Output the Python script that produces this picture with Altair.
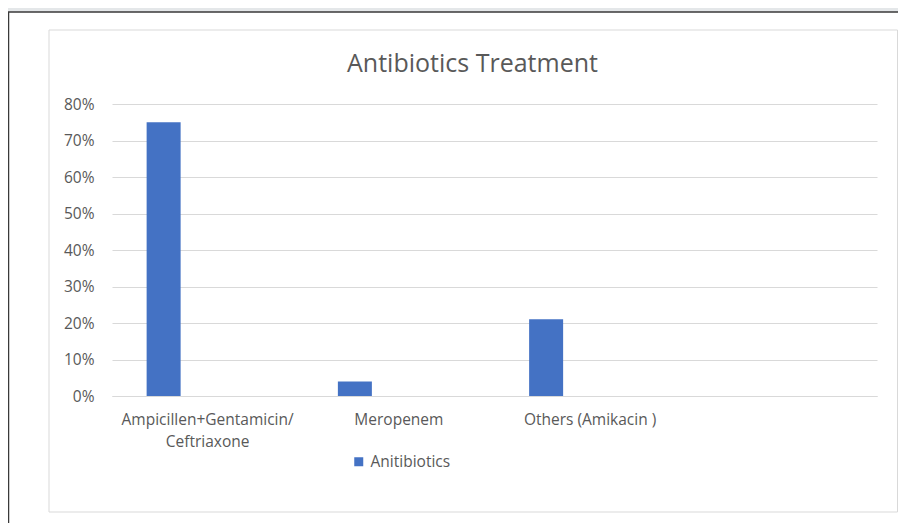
import altair as alt
import pandas as pd

# ---- data ----
categories = ["Ampicillen+Gentamicin/\nCeftriaxone", "Meropenem", "Others (Amikacin )"]
values = [0.75, 0.04, 0.21]
series_name = "Anitibiotics"
x_domain = categories + [" "]
y_ticks = [0.0, 0.1, 0.2, 0.3, 0.4, 0.5, 0.6, 0.7, 0.8]

df = pd.DataFrame({"category": categories, "value": values,
                   "series": [series_name] * len(categories)})
one = pd.DataFrame({"k": [0]})

FONT = "Open Sans"
GRAY_TXT = "#595959"

# decorative frames (outside the plot area)
top_strip = alt.Chart(one).mark_rect(fill="#e4e7e9").encode(
    x=alt.value(-104), x2=alt.value(790), y=alt.value(-96), y2=alt.value(-92))
outer_frame = alt.Chart(one).mark_rect(fill="transparent", stroke="#3a3a3a", strokeWidth=1.5).encode(
    x=alt.value(-103.5), x2=alt.value(800), y=alt.value(-92), y2=alt.value(440))
inner_frame = alt.Chart(one).mark_rect(fill="transparent", stroke="#d9d9d9", strokeWidth=1).encode(
    x=alt.value(-63), x2=alt.value(785.5), y=alt.value(-74), y2=alt.value(408))

bars = alt.Chart(df).mark_bar(width=34, xOffset=-44).encode(
    x=alt.X("category:N", sort=x_domain,
            scale=alt.Scale(domain=x_domain, paddingInner=0, paddingOuter=0),
            axis=alt.Axis(title=None, labelAngle=0, ticks=False, domainColor="#d9d9d9",
                          labelColor=GRAY_TXT, labelFontSize=15.5, labelPadding=16,
                          labelLineHeight=22, labelFont=FONT,
                          labelExpr="split(datum.label, '\\n')")),
    y=alt.Y("value:Q", scale=alt.Scale(domain=[0, 0.8], nice=False),
            axis=alt.Axis(title=None, values=y_ticks, format=".0%", ticks=False, domain=False,
                          gridColor="#d9d9d9", labelColor=GRAY_TXT, labelFontSize=15.5,
                          labelPadding=18, labelFont=FONT)),
    color=alt.Color("series:N", scale=alt.Scale(range=["#4472c4"]),
                    legend=alt.Legend(title=None, orient="none", legendX=239, legendY=350,
                                      symbolType="square", symbolSize=81, symbolStrokeWidth=0,
                                      labelFontSize=15.5, labelColor=GRAY_TXT, labelFont=FONT,
                                      labelOffset=4)),
)

chart = alt.layer(top_strip, outer_frame, inner_frame, bars).properties(
    width=765, height=292,
    padding={"left": 104, "top": 96, "right": 21, "bottom": 127},
    autosize=alt.AutoSizeParams(type="none"),
    background="white",
    title=alt.TitleParams("Antibiotics Treatment", fontSize=25, font=FONT, fontWeight="normal",
                          color=GRAY_TXT, anchor="middle", dx=-22, offset=-69),
).configure_view(stroke=None)

chart.save("out.html", embed_options={"renderer": "svg", "actions": False})
